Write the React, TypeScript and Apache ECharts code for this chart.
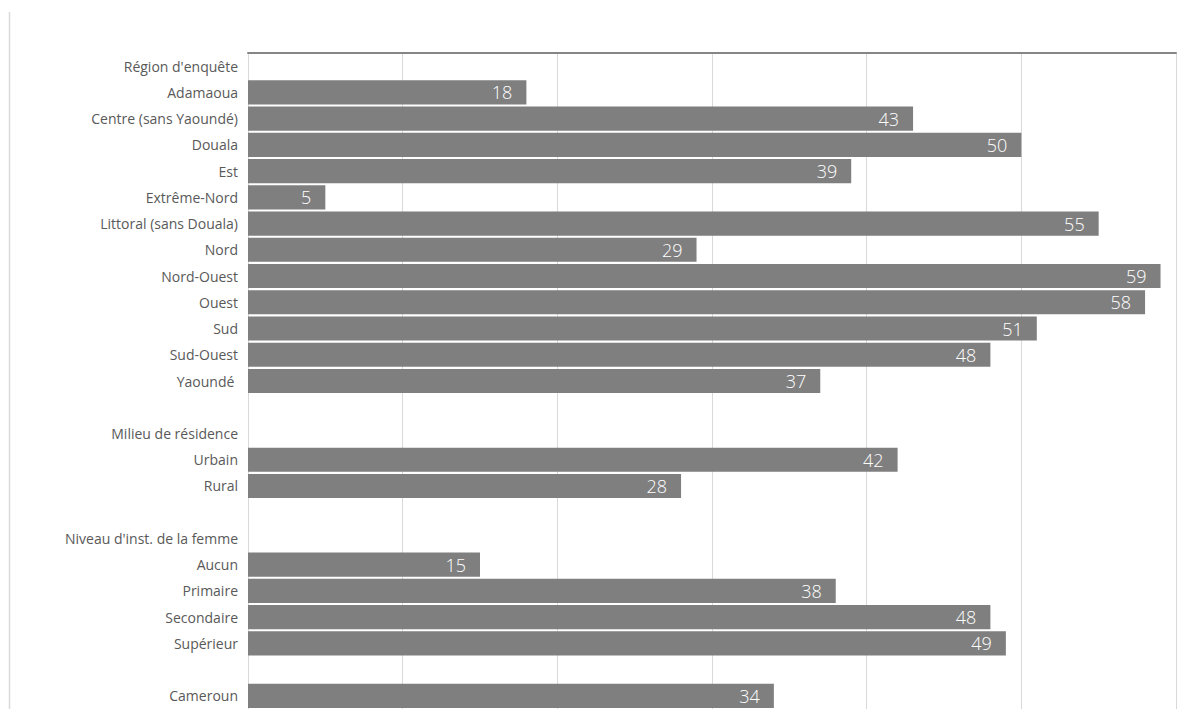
import React, { useEffect, useRef } from "react";
import * as echarts from "echarts";

const categories: string[] = [
  "Région d'enquête",
  "Adamaoua",
  "Centre (sans Yaoundé)",
  "Douala",
  "Est",
  "Extrême-Nord",
  "Littoral (sans Douala)",
  "Nord",
  "Nord-Ouest",
  "Ouest",
  "Sud",
  "Sud-Ouest",
  "Yaoundé ",
  " ",
  "Milieu de résidence",
  "Urbain",
  "Rural",
  "  ",
  "Niveau d'inst. de la femme",
  "Aucun",
  "Primaire",
  "Secondaire",
  "Supérieur",
  "   ",
  "Cameroun",
];

const values: (number | null)[] = [
  null, 18, 43, 50, 39, 5, 55, 29, 59, 58, 51, 48, 37,
  null, null, 42, 28,
  null, null, 15, 38, 48, 49,
  null, 34,
];

const axisMin = 0;
const axisMax = 60;
const axisInterval = 10;

export default function App() {
  const ref = useRef<HTMLDivElement>(null);
  useEffect(() => {
    if (!ref.current) return;
    const chart = echarts.init(ref.current, undefined, { renderer: "svg" });
    chart.setOption({
      animation: false,
      backgroundColor: "#ffffff",
      graphic: [
        {
          type: "line",
          shape: { x1: 9.5, y1: 12, x2: 9.5, y2: 709 },
          style: { stroke: "#d9d9d9", lineWidth: 1.5 },
          silent: true,
        },
      ],
      grid: { left: 248, right: 25, top: 53, height: 656 },
      xAxis: {
        type: "value",
        position: "top",
        min: axisMin,
        max: axisMax,
        interval: axisInterval,
        axisLine: { show: true, lineStyle: { color: "#868686", width: 2 } },
        axisTick: { show: false },
        axisLabel: { show: false },
        splitLine: { show: true, lineStyle: { color: "#d9d9d9", width: 1 } },
      },
      yAxis: {
        type: "category",
        inverse: true,
        data: categories,
        axisLine: { show: true, lineStyle: { color: "#d9d9d9", width: 1 } },
        axisTick: { show: false },
        axisLabel: {
          color: "#595959",
          fontSize: 14,
          fontFamily: "'Open Sans', 'Liberation Sans', sans-serif",
          margin: 10,
          interval: 0,
        },
      },
      series: [
        {
          type: "bar",
          data: values,
          barCategoryGap: "8%",
          itemStyle: { color: "#7f7f7f" },
          label: {
            show: true,
            position: "insideRight",
            distance: 14,
            color: "#ffffff",
            fontSize: 18,
            fontWeight: 300,
            fontFamily: "'Open Sans', 'Liberation Sans', sans-serif",
          },
        },
      ],
    });
    return () => chart.dispose();
  }, []);
  return (
    <div
      ref={ref}
      style={{ position: "absolute", left: 0, top: 0, width: 1201, height: 709 }}
    />
  );
}
